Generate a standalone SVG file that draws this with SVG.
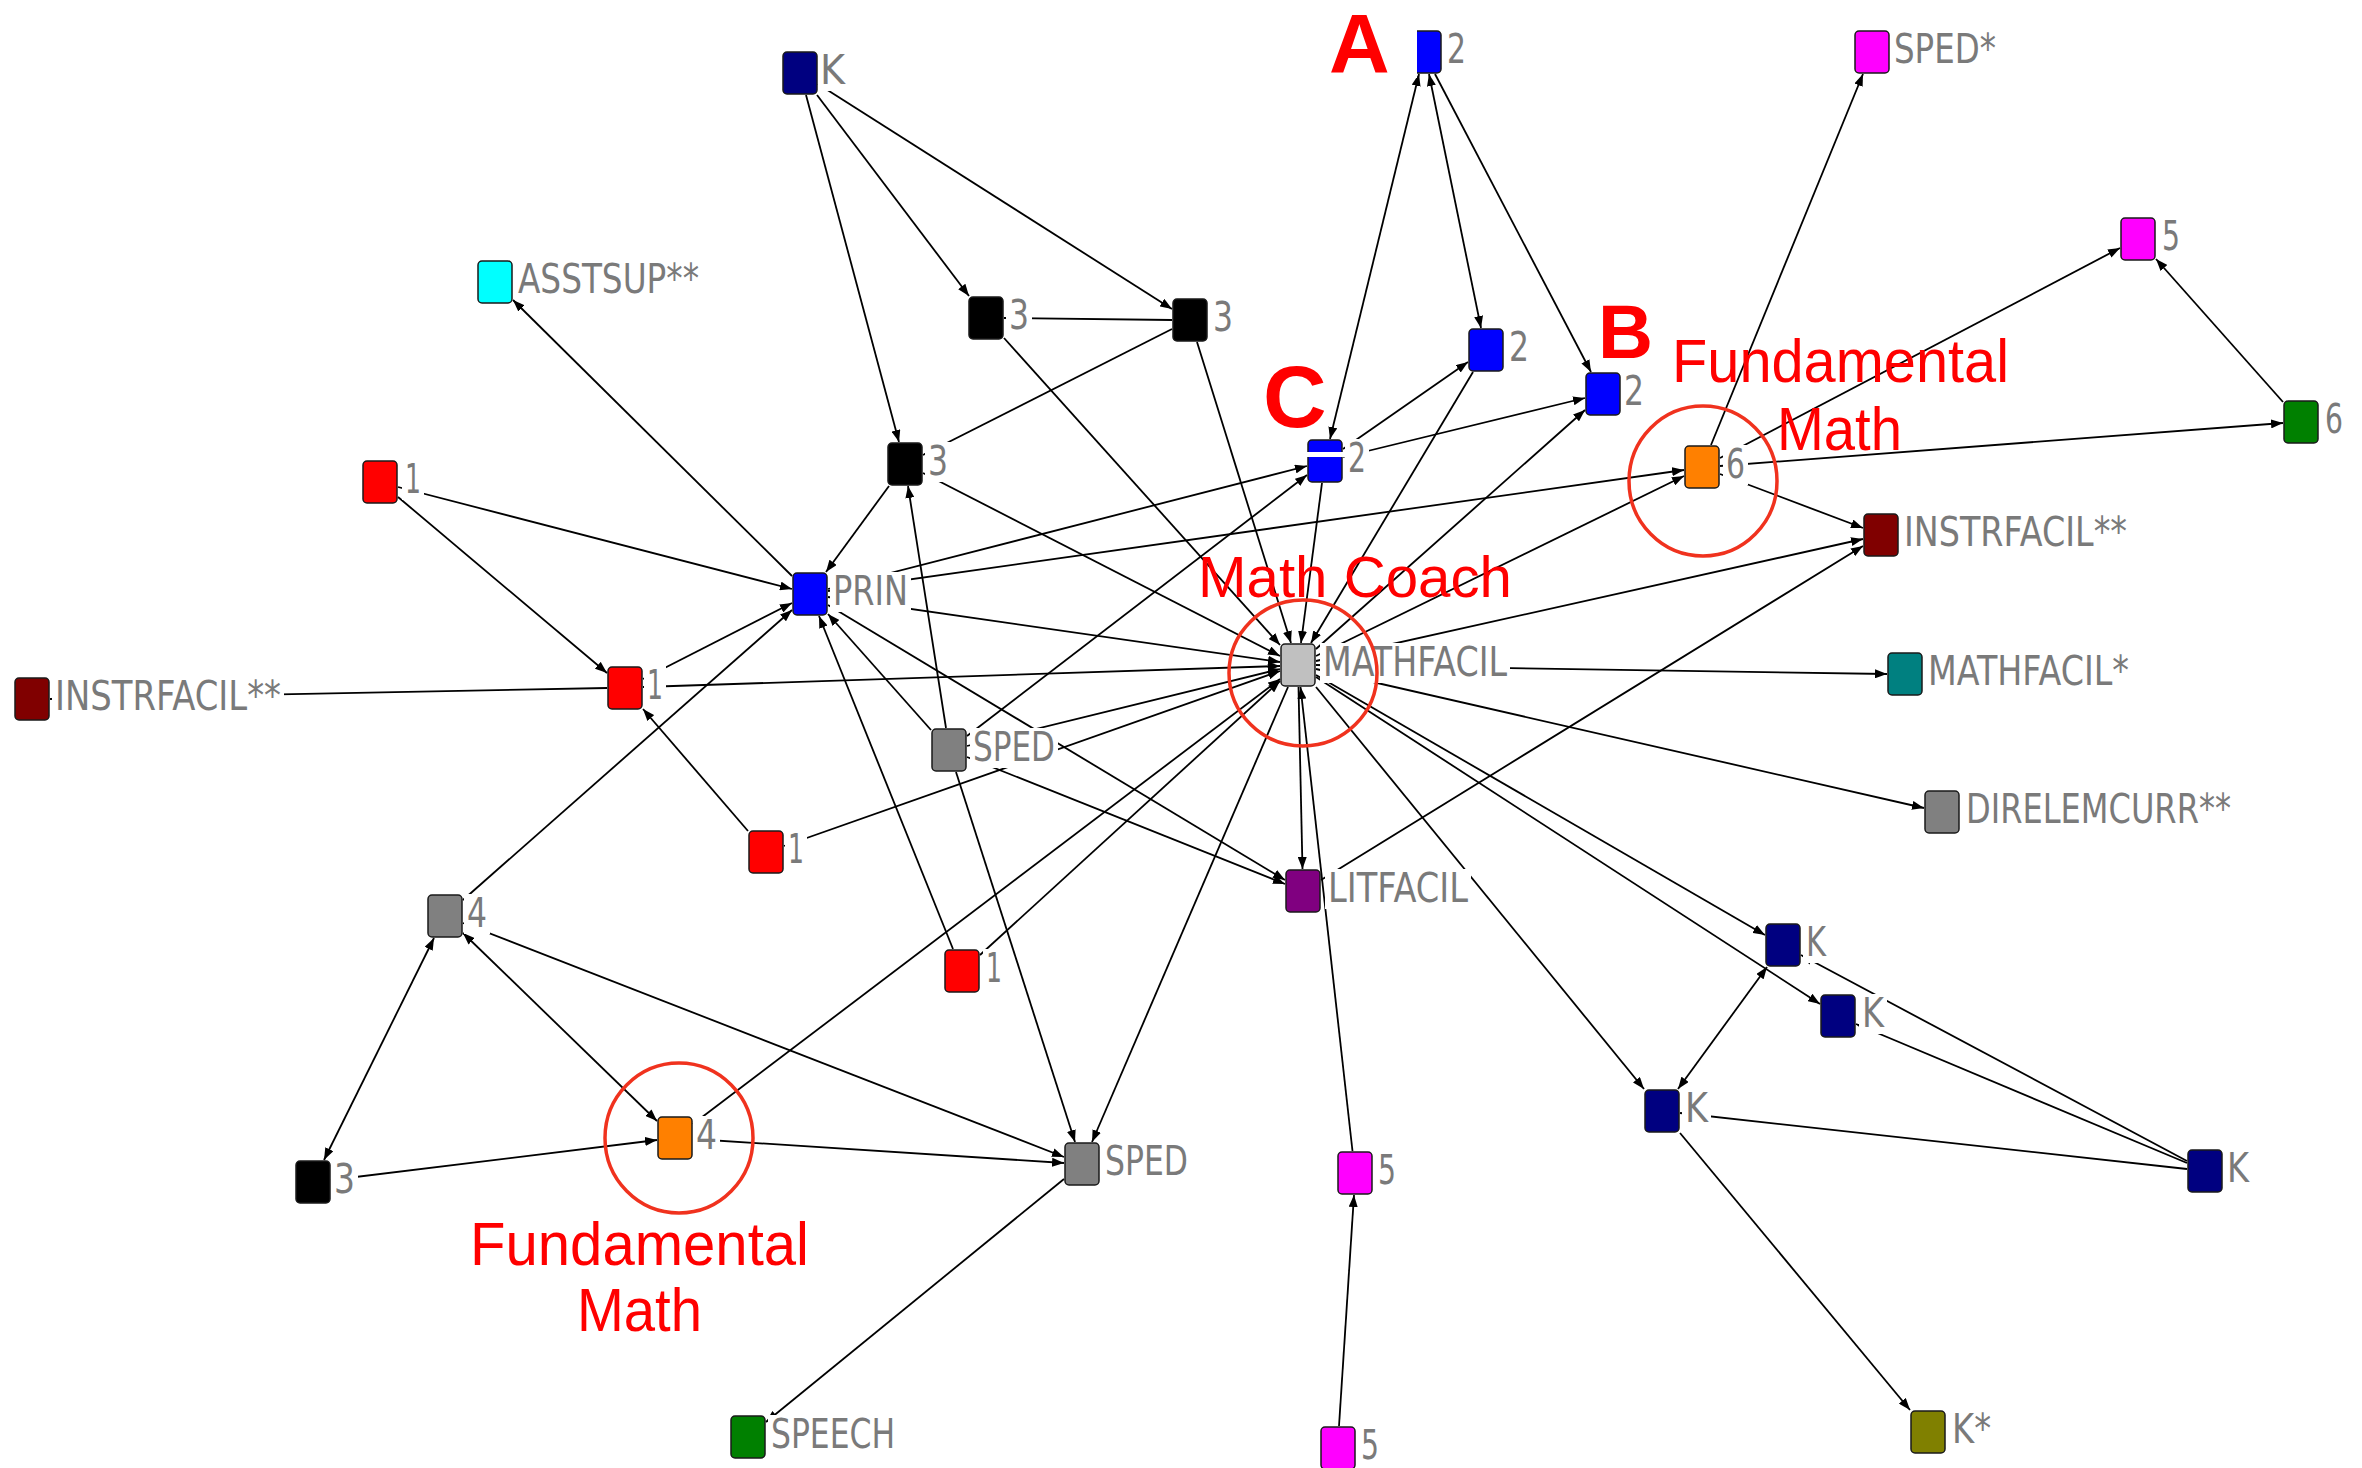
<svg xmlns="http://www.w3.org/2000/svg" width="2362" height="1468" viewBox="0 0 2362 1468">
<style>
.e{stroke:#000;stroke-width:1.8;fill:none}
.a{marker-end:url(#ah)}
.b{marker-start:url(#ah);marker-end:url(#ah)}
.n{stroke:#1a1a1a;stroke-width:1.5}
.lb{fill:#fff}
.t{font-family:"DejaVu Sans",Verdana,sans-serif;font-size:41px;fill:#7a7a7a}
.r{font-family:"Liberation Sans",Arial,sans-serif;fill:#ff0000}
.rb{font-weight:bold}
.c{fill:none;stroke:#f0321e;stroke-width:3.5}
</style>
<defs>
<marker id="ah" viewBox="0 0 12 9" refX="12" refY="4.5" markerWidth="12" markerHeight="9" markerUnits="userSpaceOnUse" orient="auto-start-reverse"><path d="M0,0L12,4.5L0,9z" fill="#000"/></marker>
</defs>
<rect x="0" y="0" width="2362" height="1468" fill="#fff"/>
<g id="connectors">
<line class="e a" x1="817" y1="95" x2="969" y2="296"/>
<line class="e a" x1="818" y1="84" x2="1172" y2="309"/>
<line class="e a" x1="806" y1="95" x2="899" y2="442"/>
<line class="e a" x1="1172" y1="320" x2="1004" y2="318"/>
<line class="e a" x1="1172" y1="329" x2="923" y2="455"/>
<line class="e a" x1="1004" y1="338" x2="1280" y2="645"/>
<line class="e a" x1="1197" y1="342" x2="1291" y2="643"/>
<line class="e a" x1="923" y1="473" x2="1280" y2="656"/>
<line class="e a" x1="889" y1="486" x2="826" y2="572"/>
<line class="e b" x1="1419" y1="74" x2="1330" y2="439"/>
<line class="e b" x1="1429" y1="74" x2="1481" y2="328"/>
<line class="e a" x1="1435" y1="74" x2="1591" y2="372"/>
<line class="e a" x1="1343" y1="449" x2="1468" y2="362"/>
<line class="e a" x1="1343" y1="457" x2="1585" y2="398"/>
<line class="e a" x1="828" y1="589" x2="1307" y2="466"/>
<line class="e a" x1="967" y1="736" x2="1307" y2="475"/>
<line class="e a" x1="1322" y1="483" x2="1301" y2="643"/>
<line class="e a" x1="1473" y1="372" x2="1311" y2="643"/>
<line class="e a" x1="1316" y1="649" x2="1585" y2="410"/>
<line class="e a" x1="398" y1="487" x2="792" y2="589"/>
<line class="e a" x1="398" y1="497" x2="607" y2="673"/>
<line class="e a" x1="643" y1="679" x2="792" y2="603"/>
<line class="e a" x1="463" y1="900" x2="792" y2="610"/>
<line class="e a" x1="792" y1="576" x2="513" y2="300"/>
<line class="e a" x1="828" y1="591" x2="1684" y2="470"/>
<line class="e a" x1="828" y1="597" x2="1280" y2="662"/>
<line class="e a" x1="828" y1="605" x2="1285" y2="880"/>
<line class="e a" x1="931" y1="730" x2="828" y2="614"/>
<line class="e a" x1="953" y1="949" x2="819" y2="616"/>
<line class="e a" x1="748" y1="831" x2="643" y2="709"/>
<line class="e a" x1="643" y1="687" x2="1280" y2="666"/>
<line class="e" x1="50" y1="699" x2="607" y2="688"/>
<line class="e a" x1="784" y1="846" x2="1280" y2="671"/>
<line class="e a" x1="967" y1="746" x2="1280" y2="669"/>
<line class="e a" x1="967" y1="757" x2="1285" y2="884"/>
<line class="e a" x1="946" y1="728" x2="908" y2="486"/>
<line class="e a" x1="956" y1="772" x2="1075" y2="1142"/>
<line class="e a" x1="1288" y1="687" x2="1092" y2="1142"/>
<line class="e a" x1="693" y1="1124" x2="1280" y2="679"/>
<line class="e a" x1="980" y1="955" x2="1280" y2="681"/>
<line class="e a" x1="463" y1="923" x2="1064" y2="1157"/>
<line class="e a" x1="693" y1="1139" x2="1064" y2="1163"/>
<line class="e a" x1="331" y1="1180" x2="657" y2="1140"/>
<line class="e b" x1="324" y1="1160" x2="434" y2="938"/>
<line class="e b" x1="463" y1="933" x2="657" y2="1121"/>
<line class="e a" x1="1064" y1="1179" x2="766" y2="1422"/>
<line class="e a" x1="1298.5" y1="687" x2="1302.5" y2="869"/>
<line class="e a" x1="1352.5" y1="1151" x2="1300.5" y2="687"/>
<line class="e a" x1="1339" y1="1426" x2="1354" y2="1195"/>
<line class="e a" x1="1321" y1="880" x2="1863" y2="546"/>
<line class="e a" x1="1316" y1="665" x2="1887" y2="674"/>
<line class="e a" x1="1316" y1="669" x2="1924" y2="808"/>
<line class="e a" x1="1316" y1="661" x2="1863" y2="539"/>
<line class="e a" x1="1316" y1="656" x2="1684" y2="476"/>
<line class="e a" x1="1316" y1="675" x2="1765" y2="935"/>
<line class="e a" x1="1316" y1="677" x2="1820" y2="1004"/>
<line class="e a" x1="1316" y1="687" x2="1644" y2="1089"/>
<line class="e b" x1="1678" y1="1089" x2="1767" y2="967"/>
<line class="e a" x1="2187" y1="1161" x2="1801" y2="955"/>
<line class="e a" x1="2187" y1="1163" x2="1856" y2="1024"/>
<line class="e a" x1="2187" y1="1169" x2="1680" y2="1113"/>
<line class="e a" x1="1680" y1="1133" x2="1910" y2="1410"/>
<line class="e a" x1="1711" y1="445" x2="1863" y2="74"/>
<line class="e a" x1="1720" y1="458" x2="2120" y2="248"/>
<line class="e a" x1="1720" y1="466" x2="2283" y2="423"/>
<line class="e a" x1="2283" y1="402" x2="2156" y2="259"/>
<line class="e a" x1="1720" y1="474" x2="1863" y2="528"/>
</g>
<g id="nodes">
<g id="n-k0"><rect class="lb" x="818" y="51" width="31" height="40"/><rect class="n" x="783" y="52" width="34" height="42" rx="4" fill="#000080"/><text class="t" x="820" y="84" textLength="25" lengthAdjust="spacingAndGlyphs">K</text></g>
<g id="n-asstsup"><rect class="lb" x="515" y="260" width="187" height="40"/><rect class="n" x="478" y="261" width="34" height="42" rx="4" fill="#00ffff"/><text class="t" x="518" y="293" textLength="181" lengthAdjust="spacingAndGlyphs">ASSTSUP**</text></g>
<g id="n-3a"><rect class="lb" x="1006" y="296" width="26" height="40"/><rect class="n" x="969" y="297" width="34" height="42" rx="4" fill="#000"/><text class="t" x="1009" y="329" textLength="20" lengthAdjust="spacingAndGlyphs">3</text></g>
<g id="n-3b"><rect class="lb" x="1210" y="298" width="26" height="40"/><rect class="n" x="1173" y="299" width="34" height="42" rx="4" fill="#000"/><text class="t" x="1213" y="331" textLength="20" lengthAdjust="spacingAndGlyphs">3</text></g>
<g id="n-3c"><rect class="lb" x="925" y="442" width="26" height="40"/><rect class="n" x="888" y="443" width="34" height="42" rx="4" fill="#000"/><text class="t" x="928" y="475" textLength="20" lengthAdjust="spacingAndGlyphs">3</text></g>
<g id="n-a2"><rect class="lb" x="1444" y="30" width="25" height="40"/><rect class="n" x="1407" y="31" width="34" height="42" rx="4" fill="#0000ff"/><text class="t" x="1447" y="63" textLength="19" lengthAdjust="spacingAndGlyphs">2</text></g>
<g id="n-b2a"><rect class="lb" x="1506" y="328" width="26" height="40"/><rect class="n" x="1469" y="329" width="34" height="42" rx="4" fill="#0000ff"/><text class="t" x="1509" y="361" textLength="20" lengthAdjust="spacingAndGlyphs">2</text></g>
<g id="n-b2b"><rect class="lb" x="1621" y="372" width="26" height="40"/><rect class="n" x="1586" y="373" width="34" height="42" rx="4" fill="#0000ff"/><text class="t" x="1624" y="405" textLength="20" lengthAdjust="spacingAndGlyphs">2</text></g>
<g id="n-c2"><rect class="lb" x="1345" y="439" width="24" height="40"/><rect class="n" x="1308" y="440" width="34" height="42" rx="4" fill="#0000ff"/><text class="t" x="1348" y="472" textLength="18" lengthAdjust="spacingAndGlyphs">2</text></g>
<g id="n-r1a"><rect class="lb" x="402" y="460" width="22" height="40"/><rect class="n" x="363" y="461" width="34" height="42" rx="4" fill="#ff0000"/><text class="t" x="405" y="493" textLength="16" lengthAdjust="spacingAndGlyphs">1</text></g>
<g id="n-prin"><rect class="lb" x="830" y="572" width="81" height="40"/><rect class="n" x="793" y="573" width="34" height="42" rx="4" fill="#0000ff"/><text class="t" x="833" y="605" textLength="75" lengthAdjust="spacingAndGlyphs">PRIN</text></g>
<g id="n-instrfacil-l"><rect class="lb" x="52" y="677" width="232" height="40"/><rect class="n" x="15" y="678" width="34" height="42" rx="4" fill="#800000"/><text class="t" x="55" y="710" textLength="226" lengthAdjust="spacingAndGlyphs">INSTRFACIL**</text></g>
<g id="n-r1b"><rect class="lb" x="644" y="666" width="22" height="40"/><rect class="n" x="608" y="667" width="34" height="42" rx="4" fill="#ff0000"/><text class="t" x="647" y="699" textLength="16" lengthAdjust="spacingAndGlyphs">1</text></g>
<g id="n-sped-m"><rect class="lb" x="970" y="728" width="88" height="40"/><rect class="n" x="932" y="729" width="34" height="42" rx="4" fill="#808080"/><text class="t" x="973" y="761" textLength="82" lengthAdjust="spacingAndGlyphs">SPED</text></g>
<g id="n-r1c"><rect class="lb" x="785" y="830" width="22" height="40"/><rect class="n" x="749" y="831" width="34" height="42" rx="4" fill="#ff0000"/><text class="t" x="788" y="863" textLength="16" lengthAdjust="spacingAndGlyphs">1</text></g>
<g id="n-g4"><rect class="lb" x="464" y="894" width="26" height="40"/><rect class="n" x="428" y="895" width="34" height="42" rx="4" fill="#808080"/><text class="t" x="467" y="927" textLength="20" lengthAdjust="spacingAndGlyphs">4</text></g>
<g id="n-r1d"><rect class="lb" x="983" y="949" width="22" height="40"/><rect class="n" x="945" y="950" width="34" height="42" rx="4" fill="#ff0000"/><text class="t" x="986" y="982" textLength="16" lengthAdjust="spacingAndGlyphs">1</text></g>
<g id="n-mathfacil"><rect class="lb" x="1320" y="643" width="190" height="40"/><rect class="n" x="1281" y="644" width="34" height="42" rx="4" fill="#c0c0c0"/><text class="t" x="1323" y="676" textLength="184" lengthAdjust="spacingAndGlyphs">MATHFACIL</text></g>
<g id="n-litfacil"><rect class="lb" x="1325" y="869" width="146" height="40"/><rect class="n" x="1286" y="870" width="34" height="42" rx="4" fill="#800080"/><text class="t" x="1328" y="902" textLength="140" lengthAdjust="spacingAndGlyphs">LITFACIL</text></g>
<g id="n-o4"><rect class="lb" x="693" y="1116" width="27" height="40"/><rect class="n" x="658" y="1117" width="34" height="42" rx="4" fill="#ff8000"/><text class="t" x="696" y="1149" textLength="21" lengthAdjust="spacingAndGlyphs">4</text></g>
<g id="n-b3"><rect class="lb" x="331" y="1160" width="27" height="40"/><rect class="n" x="296" y="1161" width="34" height="42" rx="4" fill="#000"/><text class="t" x="334" y="1193" textLength="21" lengthAdjust="spacingAndGlyphs">3</text></g>
<g id="n-sped-l"><rect class="lb" x="1102" y="1142" width="89" height="40"/><rect class="n" x="1065" y="1143" width="34" height="42" rx="4" fill="#808080"/><text class="t" x="1105" y="1175" textLength="83" lengthAdjust="spacingAndGlyphs">SPED</text></g>
<g id="n-speech"><rect class="lb" x="768" y="1415" width="130" height="40"/><rect class="n" x="731" y="1416" width="34" height="42" rx="4" fill="#008000"/><text class="t" x="771" y="1448" textLength="124" lengthAdjust="spacingAndGlyphs">SPEECH</text></g>
<g id="n-m5a"><rect class="lb" x="1375" y="1151" width="24" height="40"/><rect class="n" x="1338" y="1152" width="34" height="42" rx="4" fill="#ff00ff"/><text class="t" x="1378" y="1184" textLength="18" lengthAdjust="spacingAndGlyphs">5</text></g>
<g id="n-m5b"><rect class="lb" x="1358" y="1426" width="24" height="40"/><rect class="n" x="1321" y="1427" width="34" height="42" rx="4" fill="#ff00ff"/><text class="t" x="1361" y="1459" textLength="18" lengthAdjust="spacingAndGlyphs">5</text></g>
<g id="n-spedstar"><rect class="lb" x="1891" y="30" width="108" height="40"/><rect class="n" x="1855" y="31" width="34" height="42" rx="4" fill="#ff00ff"/><text class="t" x="1894" y="63" textLength="102" lengthAdjust="spacingAndGlyphs">SPED*</text></g>
<g id="n-m5c"><rect class="lb" x="2159" y="217" width="24" height="40"/><rect class="n" x="2121" y="218" width="34" height="42" rx="4" fill="#ff00ff"/><text class="t" x="2162" y="250" textLength="18" lengthAdjust="spacingAndGlyphs">5</text></g>
<g id="n-g6"><rect class="lb" x="2322" y="400" width="24" height="40"/><rect class="n" x="2284" y="401" width="34" height="42" rx="4" fill="#008000"/><text class="t" x="2325" y="433" textLength="18" lengthAdjust="spacingAndGlyphs">6</text></g>
<g id="n-o6"><rect class="lb" x="1723" y="445" width="25" height="40"/><rect class="n" x="1685" y="446" width="34" height="42" rx="4" fill="#ff8000"/><text class="t" x="1726" y="478" textLength="19" lengthAdjust="spacingAndGlyphs">6</text></g>
<g id="n-instrfacil-r"><rect class="lb" x="1901" y="513" width="229" height="40"/><rect class="n" x="1864" y="514" width="34" height="42" rx="4" fill="#800000"/><text class="t" x="1904" y="546" textLength="223" lengthAdjust="spacingAndGlyphs">INSTRFACIL**</text></g>
<g id="n-mathfacilstar"><rect class="lb" x="1925" y="652" width="207" height="40"/><rect class="n" x="1888" y="653" width="34" height="42" rx="4" fill="#008080"/><text class="t" x="1928" y="685" textLength="201" lengthAdjust="spacingAndGlyphs">MATHFACIL*</text></g>
<g id="n-direlemcurr"><rect class="lb" x="1963" y="790" width="271" height="40"/><rect class="n" x="1925" y="791" width="34" height="42" rx="4" fill="#808080"/><text class="t" x="1966" y="823" textLength="265" lengthAdjust="spacingAndGlyphs">DIRELEMCURR**</text></g>
<g id="n-k1"><rect class="lb" x="1803" y="923" width="26" height="40"/><rect class="n" x="1766" y="924" width="34" height="42" rx="4" fill="#000080"/><text class="t" x="1806" y="956" textLength="20" lengthAdjust="spacingAndGlyphs">K</text></g>
<g id="n-k2"><rect class="lb" x="1859" y="994" width="28" height="40"/><rect class="n" x="1821" y="995" width="34" height="42" rx="4" fill="#000080"/><text class="t" x="1862" y="1027" textLength="22" lengthAdjust="spacingAndGlyphs">K</text></g>
<g id="n-k3"><rect class="lb" x="1682" y="1089" width="29" height="40"/><rect class="n" x="1645" y="1090" width="34" height="42" rx="4" fill="#000080"/><text class="t" x="1685" y="1122" textLength="23" lengthAdjust="spacingAndGlyphs">K</text></g>
<g id="n-k4"><rect class="lb" x="2224" y="1149" width="28" height="40"/><rect class="n" x="2188" y="1150" width="34" height="42" rx="4" fill="#000080"/><text class="t" x="2227" y="1182" textLength="22" lengthAdjust="spacingAndGlyphs">K</text></g>
<g id="n-kstar"><rect class="lb" x="1949" y="1410" width="45" height="40"/><rect class="n" x="1911" y="1411" width="34" height="42" rx="4" fill="#808000"/><text class="t" x="1952" y="1443" textLength="39" lengthAdjust="spacingAndGlyphs">K*</text></g>
</g>
<g id="annotations">
<rect x="1398" y="26" width="19" height="52" fill="#fff"/>
<rect x="1306" y="452" width="42" height="5" fill="#fff"/>
<text class="r rb" x="1329" y="73" font-size="84">A</text>
<text class="r rb" x="1263" y="427" font-size="88">C</text>
<text class="r rb" x="1598" y="358" font-size="76" textLength="55" lengthAdjust="spacingAndGlyphs">B</text>
<text class="r" x="1672" y="382" font-size="61" textLength="337" lengthAdjust="spacingAndGlyphs">Fundamental</text>
<text class="r" x="1777" y="450" font-size="61" textLength="125" lengthAdjust="spacingAndGlyphs">Math</text>
<text class="r" x="1198" y="597" font-size="58" textLength="314" lengthAdjust="spacingAndGlyphs">Math Coach</text>
<text class="r" x="470" y="1265" font-size="62" textLength="339" lengthAdjust="spacingAndGlyphs">Fundamental</text>
<text class="r" x="577" y="1331" font-size="62" textLength="125" lengthAdjust="spacingAndGlyphs">Math</text>
<ellipse class="c" cx="1303" cy="673" rx="74" ry="73"/>
<ellipse class="c" cx="1703" cy="481" rx="74" ry="75"/>
<ellipse class="c" cx="679" cy="1138" rx="74" ry="75"/>
</g>
</svg>
